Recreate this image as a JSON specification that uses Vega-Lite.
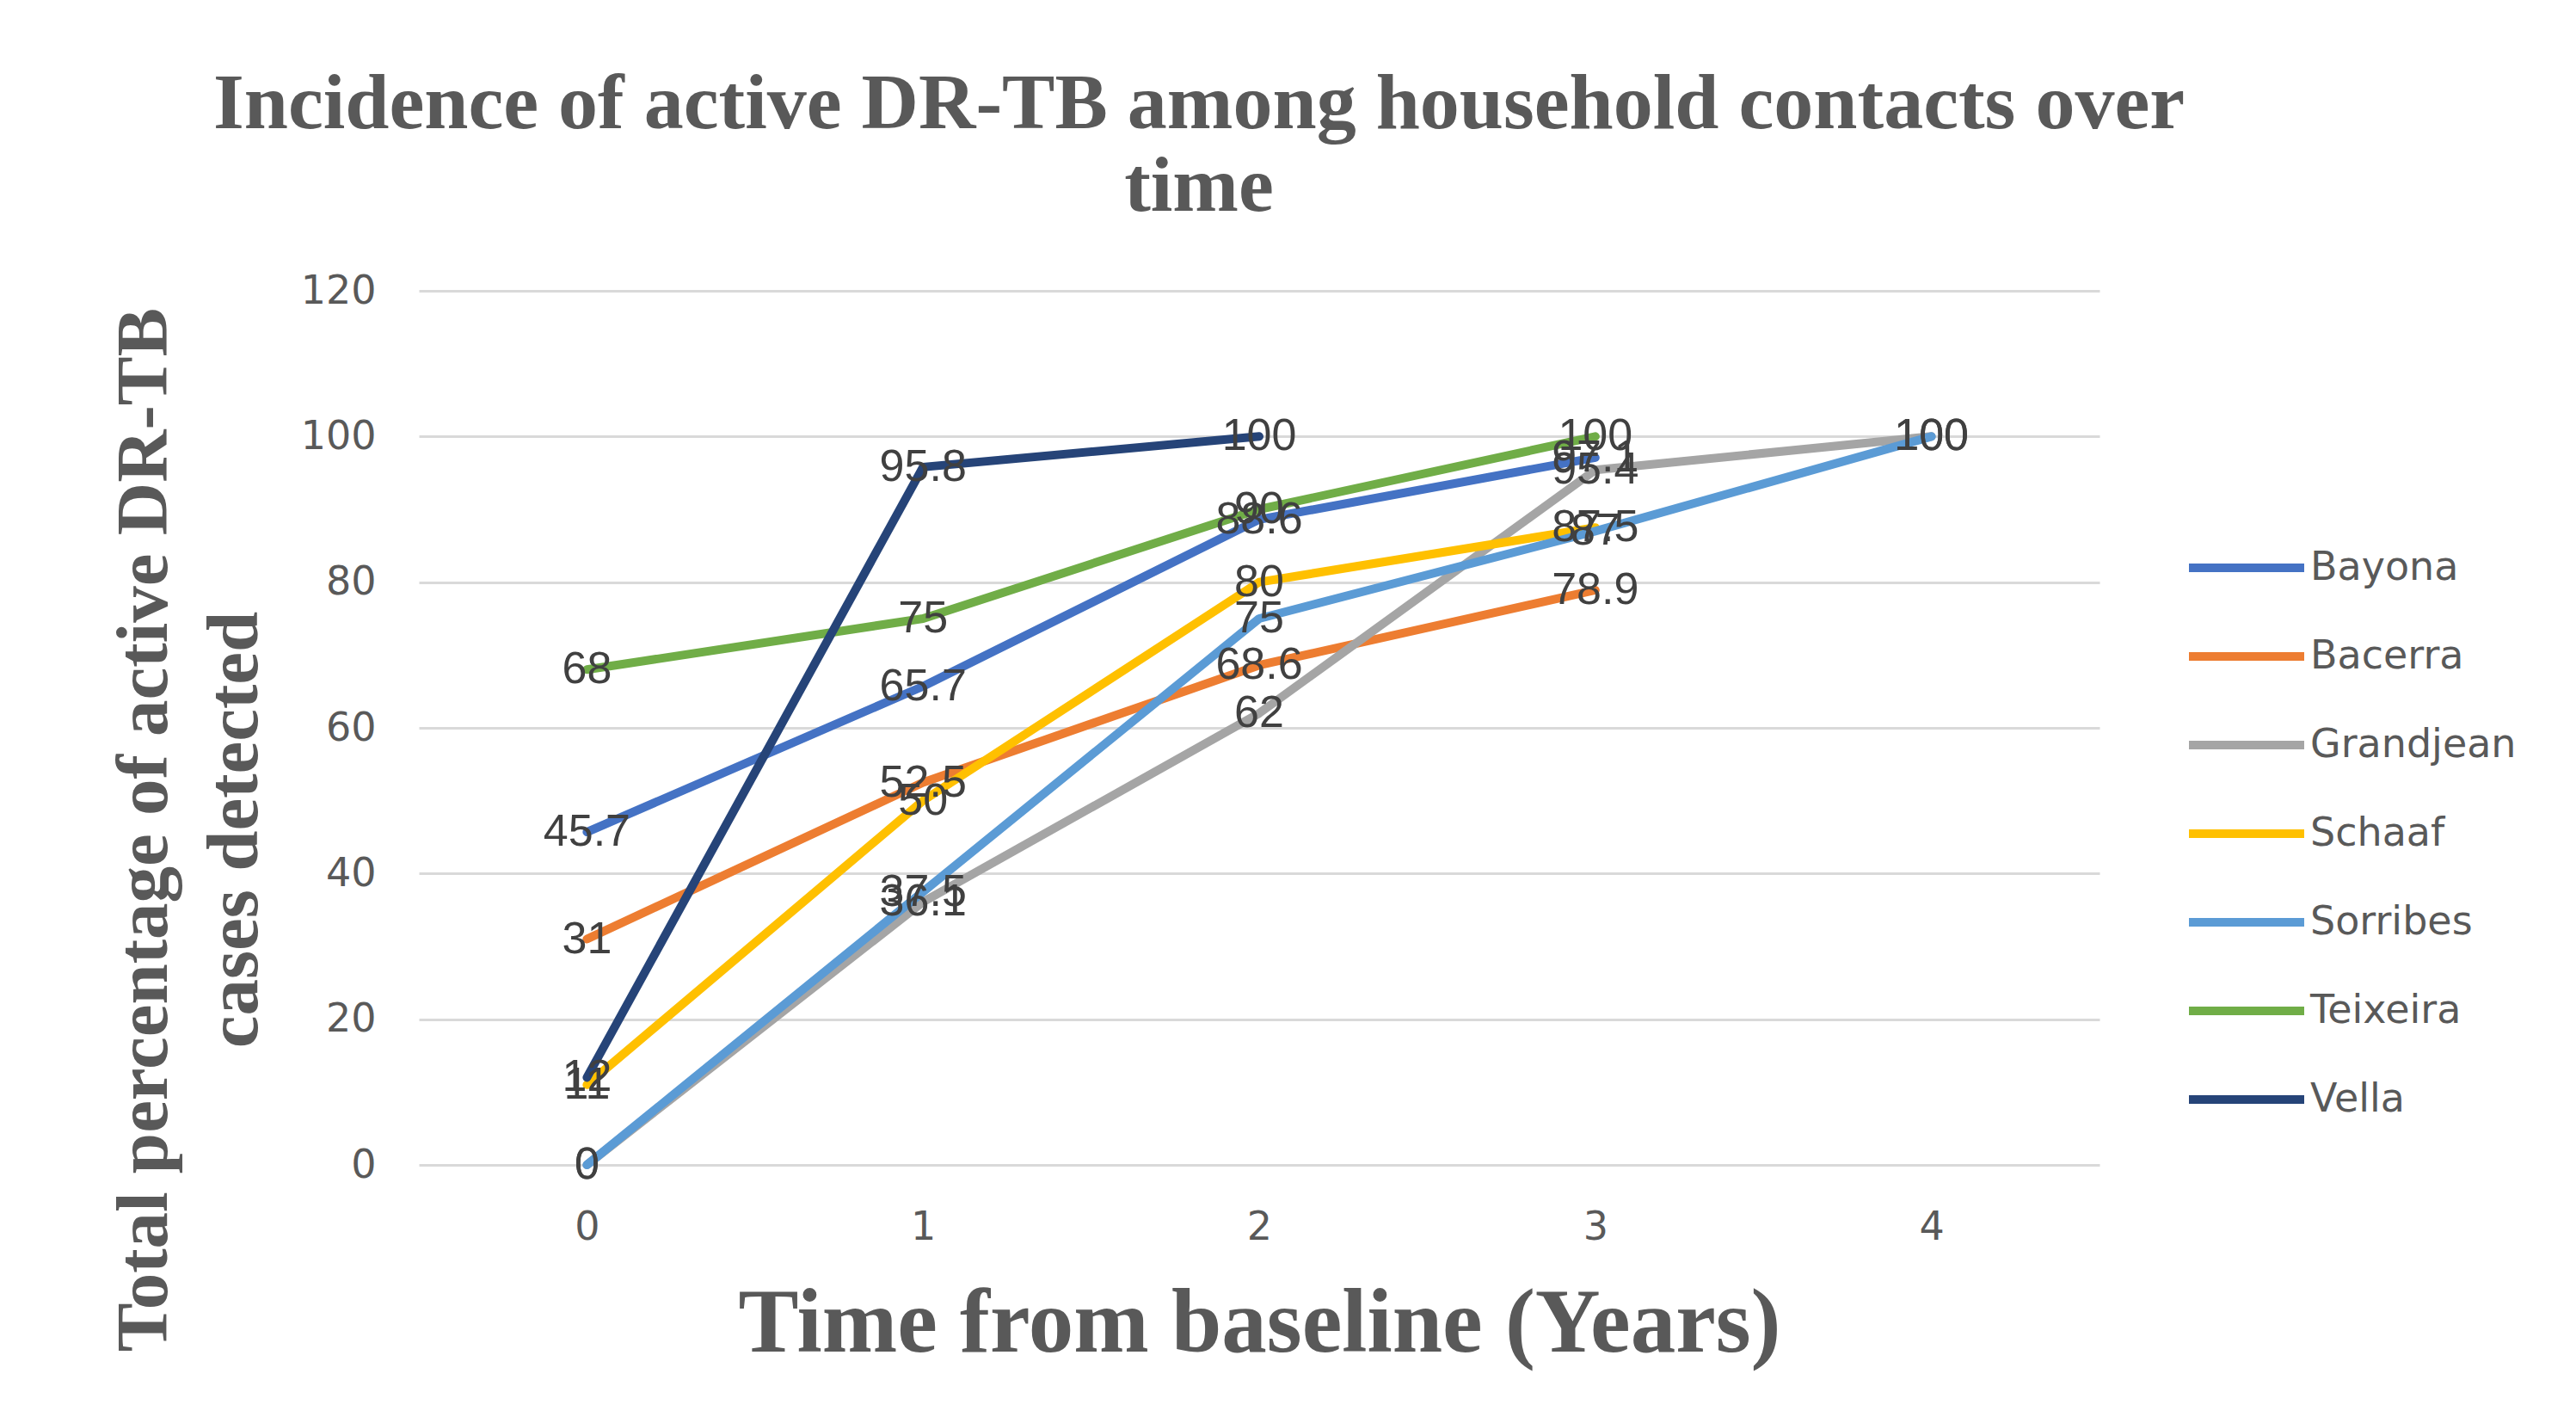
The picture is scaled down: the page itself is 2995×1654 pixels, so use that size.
{
  "$schema": "https://vega.github.io/schema/vega-lite/v6.json",
  "autosize": "none",
  "width": 1954,
  "height": 1016,
  "padding": {"left": 487, "top": 338, "right": 554, "bottom": 300},
  "background": "white",
  "config": {
    "view": {"stroke": null},
    "axis": {"labelColor": "#595959", "titleColor": "#595959"}
  },
  "title": {
    "text": ["Incidence of active DR-TB among household contacts over", "time"],
    "font": "Liberation Serif",
    "fontWeight": "bold",
    "fontSize": 92,
    "color": "#595959",
    "anchor": "middle",
    "dx": -70,
    "baseline": "alphabetic",
    "offset": -22,
    "lineHeight": 96
  },
  "data": {
    "values": [
      {"study": "Bayona", "year": 0, "value": 45.7},
      {"study": "Bayona", "year": 1, "value": 65.7},
      {"study": "Bayona", "year": 2, "value": 88.6},
      {"study": "Bayona", "year": 3, "value": 97.1},
      {"study": "Bacerra", "year": 0, "value": 31},
      {"study": "Bacerra", "year": 1, "value": 52.5},
      {"study": "Bacerra", "year": 2, "value": 68.6},
      {"study": "Bacerra", "year": 3, "value": 78.9},
      {"study": "Grandjean", "year": 0, "value": 0},
      {"study": "Grandjean", "year": 1, "value": 36.1},
      {"study": "Grandjean", "year": 2, "value": 62},
      {"study": "Grandjean", "year": 3, "value": 95.4},
      {"study": "Grandjean", "year": 4, "value": 100},
      {"study": "Schaaf", "year": 0, "value": 11},
      {"study": "Schaaf", "year": 1, "value": 50},
      {"study": "Schaaf", "year": 2, "value": 80},
      {"study": "Schaaf", "year": 3, "value": 87.5},
      {"study": "Sorribes", "year": 0, "value": 0},
      {"study": "Sorribes", "year": 1, "value": 37.5},
      {"study": "Sorribes", "year": 2, "value": 75},
      {"study": "Sorribes", "year": 3, "value": 87},
      {"study": "Sorribes", "year": 4, "value": 100},
      {"study": "Teixeira", "year": 0, "value": 68},
      {"study": "Teixeira", "year": 1, "value": 75},
      {"study": "Teixeira", "year": 2, "value": 90},
      {"study": "Teixeira", "year": 3, "value": 100},
      {"study": "Vella", "year": 0, "value": 12},
      {"study": "Vella", "year": 1, "value": 95.8},
      {"study": "Vella", "year": 2, "value": 100}
    ]
  },
  "encoding": {
    "x": {
      "field": "year",
      "type": "ordinal",
      "scale": {"type": "point", "padding": 0.5},
      "axis": {
        "title": "Time from baseline (Years)",
        "titleFont": "Liberation Serif",
        "titleFontWeight": "bold",
        "titleFontSize": 105,
        "titleBaseline": "alphabetic",
        "titleY": 216,
        "labelAngle": 0,
        "labelFont": "DejaVu Sans",
        "labelFontSize": 46,
        "labelPadding": 50,
        "ticks": false,
        "domain": false,
        "grid": false
      }
    },
    "y": {
      "field": "value",
      "type": "quantitative",
      "scale": {"domain": [0, 120], "nice": false},
      "axis": {
        "values": [0, 20, 40, 60, 80, 100, 120],
        "title": ["Total percentage of active DR-TB", "cases detected"],
        "titleFont": "Liberation Serif",
        "titleFontWeight": "bold",
        "titleFontSize": 85,
        "titleLineHeight": 105,
        "titleAngle": 270,
        "titleAlign": "center",
        "titleBaseline": "middle",
        "titleX": -320,
        "titleY": 626,
        "labelFont": "DejaVu Sans",
        "labelFontSize": 46,
        "labelPadding": 50,
        "ticks": false,
        "domain": false,
        "grid": true,
        "gridColor": "#d9d9d9",
        "gridWidth": 3
      }
    }
  },
  "layer": [
    {
      "mark": {"type": "line", "strokeWidth": 10, "strokeCap": "round", "strokeJoin": "round"},
      "encoding": {
        "color": {
          "field": "study",
          "type": "nominal",
          "scale": {
            "domain": ["Bayona", "Bacerra", "Grandjean", "Schaaf", "Sorribes", "Teixeira", "Vella"],
            "range": ["#4472C4", "#ED7D31", "#A5A5A5", "#FFC000", "#5B9BD5", "#70AD47", "#264478"]
          },
          "legend": {
            "title": null,
            "orient": "none",
            "legendX": 2053,
            "legendY": 250,
            "symbolType": "stroke",
            "symbolSize": 17956,
            "symbolStrokeWidth": 10,
            "labelFont": "DejaVu Sans",
            "labelFontSize": 46,
            "labelColor": "#595959",
            "labelOffset": 2,
            "labelLimit": 500,
            "rowPadding": 8
          }
        },
        "order": {"field": "year"}
      }
    },
    {
      "mark": {"type": "text", "font": "Liberation Sans", "fontSize": 52, "color": "#404040", "align": "center", "baseline": "middle"},
      "encoding": {
        "text": {"field": "value", "type": "quantitative"}
      }
    }
  ]
}
